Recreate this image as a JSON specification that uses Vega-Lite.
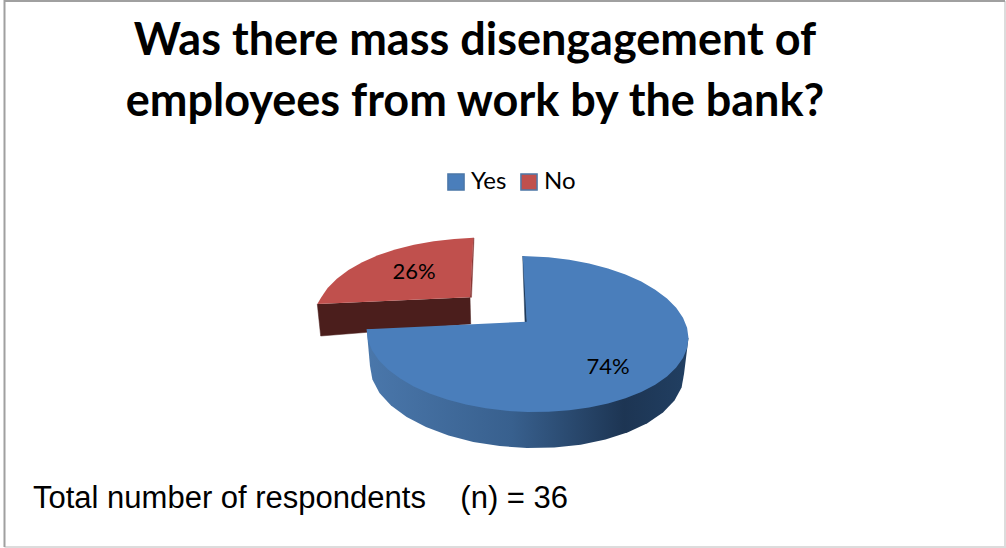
{
  "$schema": "https://vega.github.io/schema/vega-lite/v6.json",
  "width": 1006,
  "height": 548,
  "padding": 0,
  "autosize": {"type": "none"},
  "background": "white",
  "config": {"view": {"stroke": null}},
  "title": {
    "text": ["Was there mass disengagement of", "employees from work by the bank?"],
    "font": "Lato",
    "fontSize": 45,
    "fontWeight": "bold",
    "color": "#000000",
    "lineHeight": 61,
    "anchor": "start",
    "align": "center",
    "baseline": "top",
    "offset": 0,
    "dx": 475,
    "dy": 128
  },
  "datasets": {
    "shares": [
      {"category": "Yes", "share": 0.74, "lx": 608, "ly": 366},
      {"category": "No", "share": 0.26, "lx": 414, "ly": 271}
    ],
    "notes": [
      {"label": "Total number of respondents\u00a0\u00a0\u00a0\u00a0(n) = 36", "lx": 33, "ly": 499}
    ],
    "frame": [
      {"edge": "dark", "i": 1, "x": 4.5, "y": 547},
      {"edge": "dark", "i": 2, "x": 4.5, "y": 1},
      {"edge": "dark", "i": 3, "x": 1005, "y": 1},
      {"edge": "light", "i": 1, "x": 4.5, "y": 547},
      {"edge": "light", "i": 2, "x": 1005, "y": 547},
      {"edge": "light", "i": 3, "x": 1005, "y": 1}
    ],
    "outlines": [
      {"part": "noSide", "i": 1, "x": 317.3, "y": 304},
      {"part": "noSide", "i": 2, "x": 320.7, "y": 336},
      {"part": "noSide", "i": 3, "x": 470.7, "y": 324},
      {"part": "noSide", "i": 4, "x": 470, "y": 297.3},

      {"part": "noWall", "i": 1, "x": 473.3, "y": 237.7},
      {"part": "noWall", "i": 2, "x": 470, "y": 297.3},
      {"part": "noWall", "i": 3, "x": 471.5, "y": 297.3},
      {"part": "noWall", "i": 4, "x": 474, "y": 238},

      {"part": "yesWall", "i": 1, "x": 522.7, "y": 256},
      {"part": "yesWall", "i": 2, "x": 525, "y": 322},
      {"part": "yesWall", "i": 3, "x": 527, "y": 322},
      {"part": "yesWall", "i": 4, "x": 524, "y": 256},

      {"part": "yesSide", "i": 1, "x": 366.7, "y": 329.3},
      {"part": "yesSide", "i": 2, "x": 688.5, "y": 338},
      {"part": "yesSide", "i": 3, "x": 684, "y": 374},
      {"part": "yesSide", "i": 4, "x": 681.6, "y": 387.4},
      {"part": "yesSide", "i": 5, "x": 674.5, "y": 400.5},
      {"part": "yesSide", "i": 6, "x": 663, "y": 412.5},
      {"part": "yesSide", "i": 7, "x": 647.3, "y": 423.2},
      {"part": "yesSide", "i": 8, "x": 628, "y": 432.3},
      {"part": "yesSide", "i": 9, "x": 605.5, "y": 439.5},
      {"part": "yesSide", "i": 10, "x": 580.7, "y": 444.7},
      {"part": "yesSide", "i": 11, "x": 554.3, "y": 447.5},
      {"part": "yesSide", "i": 12, "x": 527, "y": 448},
      {"part": "yesSide", "i": 13, "x": 499.7, "y": 446.1},
      {"part": "yesSide", "i": 14, "x": 473.3, "y": 441.9},
      {"part": "yesSide", "i": 15, "x": 448.5, "y": 435.5},
      {"part": "yesSide", "i": 16, "x": 426, "y": 427.1},
      {"part": "yesSide", "i": 17, "x": 406.7, "y": 417},
      {"part": "yesSide", "i": 18, "x": 391, "y": 405.5},
      {"part": "yesSide", "i": 19, "x": 379.5, "y": 392.9},
      {"part": "yesSide", "i": 20, "x": 372.4, "y": 379.6},
      {"part": "yesSide", "i": 21, "x": 370, "y": 366},

      {"category": "No", "part": "noTop", "i": 1, "x": 473.3, "y": 237.7},
      {"category": "No", "part": "noTop", "i": 2, "x": 454.2, "y": 239},
      {"category": "No", "part": "noTop", "i": 3, "x": 433.7, "y": 241.2},
      {"category": "No", "part": "noTop", "i": 4, "x": 414, "y": 244.7},
      {"category": "No", "part": "noTop", "i": 5, "x": 395.2, "y": 249.5},
      {"category": "No", "part": "noTop", "i": 6, "x": 377.9, "y": 255.3},
      {"category": "No", "part": "noTop", "i": 7, "x": 362.2, "y": 262.2},
      {"category": "No", "part": "noTop", "i": 8, "x": 348.5, "y": 270.1},
      {"category": "No", "part": "noTop", "i": 9, "x": 336.9, "y": 278.7},
      {"category": "No", "part": "noTop", "i": 10, "x": 327.6, "y": 288},
      {"category": "No", "part": "noTop", "i": 11, "x": 321, "y": 297.7},
      {"category": "No", "part": "noTop", "i": 12, "x": 317.3, "y": 304},
      {"category": "No", "part": "noTop", "i": 13, "x": 470, "y": 297.3},

      {"category": "Yes", "part": "yesTop", "i": 1, "x": 522.7, "y": 256},
      {"category": "Yes", "part": "yesTop", "i": 2, "x": 548.5, "y": 257.2},
      {"category": "Yes", "part": "yesTop", "i": 3, "x": 569.2, "y": 259.7},
      {"category": "Yes", "part": "yesTop", "i": 4, "x": 589.1, "y": 263.4},
      {"category": "Yes", "part": "yesTop", "i": 5, "x": 608, "y": 268.5},
      {"category": "Yes", "part": "yesTop", "i": 6, "x": 625.5, "y": 274.5},
      {"category": "Yes", "part": "yesTop", "i": 7, "x": 641.3, "y": 281.6},
      {"category": "Yes", "part": "yesTop", "i": 8, "x": 655.2, "y": 289.7},
      {"category": "Yes", "part": "yesTop", "i": 9, "x": 667, "y": 298.5},
      {"category": "Yes", "part": "yesTop", "i": 10, "x": 676.2, "y": 307.8},
      {"category": "Yes", "part": "yesTop", "i": 11, "x": 683, "y": 317.7},
      {"category": "Yes", "part": "yesTop", "i": 12, "x": 687.1, "y": 327.8},
      {"category": "Yes", "part": "yesTop", "i": 13, "x": 688.5, "y": 338},
      {"category": "Yes", "part": "yesTop", "i": 14, "x": 687.1, "y": 348.2},
      {"category": "Yes", "part": "yesTop", "i": 15, "x": 683, "y": 358.1},
      {"category": "Yes", "part": "yesTop", "i": 16, "x": 676.2, "y": 367.6},
      {"category": "Yes", "part": "yesTop", "i": 17, "x": 667, "y": 376.5},
      {"category": "Yes", "part": "yesTop", "i": 18, "x": 655.2, "y": 384.7},
      {"category": "Yes", "part": "yesTop", "i": 19, "x": 641.3, "y": 392},
      {"category": "Yes", "part": "yesTop", "i": 20, "x": 625.5, "y": 398.3},
      {"category": "Yes", "part": "yesTop", "i": 21, "x": 608, "y": 403.5},
      {"category": "Yes", "part": "yesTop", "i": 22, "x": 589.1, "y": 407.6},
      {"category": "Yes", "part": "yesTop", "i": 23, "x": 569.2, "y": 410.3},
      {"category": "Yes", "part": "yesTop", "i": 24, "x": 548.5, "y": 411.8},
      {"category": "Yes", "part": "yesTop", "i": 25, "x": 527.5, "y": 412},
      {"category": "Yes", "part": "yesTop", "i": 26, "x": 506.5, "y": 410.8},
      {"category": "Yes", "part": "yesTop", "i": 27, "x": 485.8, "y": 408.3},
      {"category": "Yes", "part": "yesTop", "i": 28, "x": 465.9, "y": 404.6},
      {"category": "Yes", "part": "yesTop", "i": 29, "x": 447, "y": 399.5},
      {"category": "Yes", "part": "yesTop", "i": 30, "x": 429.5, "y": 393.5},
      {"category": "Yes", "part": "yesTop", "i": 31, "x": 413.7, "y": 386.4},
      {"category": "Yes", "part": "yesTop", "i": 32, "x": 399.8, "y": 378.3},
      {"category": "Yes", "part": "yesTop", "i": 33, "x": 388, "y": 369.5},
      {"category": "Yes", "part": "yesTop", "i": 34, "x": 378.8, "y": 360.2},
      {"category": "Yes", "part": "yesTop", "i": 35, "x": 372, "y": 350.3},
      {"category": "Yes", "part": "yesTop", "i": 36, "x": 367.9, "y": 340.2},
      {"category": "Yes", "part": "yesTop", "i": 37, "x": 366.7, "y": 329.3},
      {"category": "Yes", "part": "yesTop", "i": 38, "x": 526.7, "y": 321.7}
    ]
  },
  "data": {"name": "outlines"},
  "encoding": {
    "x": {"field": "x", "type": "quantitative", "axis": null, "scale": {"domain": [0, 1006], "nice": false, "zero": false}},
    "y": {"field": "y", "type": "quantitative", "axis": null, "scale": {"domain": [548, 0], "nice": false, "zero": false}},
    "order": {"field": "i", "type": "quantitative"}
  },
  "layer": [
    {
      "data": {"name": "frame"},
      "transform": [{"filter": "datum.edge === 'light'"}],
      "mark": {"type": "line", "stroke": "#dcdcdc", "strokeWidth": 2, "clip": false}
    },
    {
      "data": {"name": "frame"},
      "transform": [{"filter": "datum.edge === 'dark'"}],
      "mark": {"type": "line", "stroke": "#a0a0a0", "strokeWidth": 2, "clip": false}
    },
    {
      "transform": [{"filter": "datum.part === 'noSide'"}],
      "mark": {"type": "line", "fill": "#4b1e1c", "stroke": "#4b1e1c", "strokeWidth": 0.5}
    },
    {
      "transform": [{"filter": "datum.part === 'noWall'"}],
      "mark": {"type": "line", "fill": "#8a3a38", "stroke": "#8a3a38", "strokeWidth": 0.5}
    },
    {
      "transform": [{"filter": "datum.part === 'yesWall'"}],
      "mark": {"type": "line", "fill": "#1f3a5a", "stroke": "#1f3a5a", "strokeWidth": 0.5}
    },
    {
      "transform": [{"filter": "datum.part === 'yesSide'"}],
      "mark": {
        "type": "line",
        "strokeWidth": 0,
        "fill": {
          "gradient": "linear", "x1": 0, "x2": 1, "y1": 0, "y2": 0,
          "stops": [
            {"offset": 0, "color": "#4a77ab"},
            {"offset": 0.45, "color": "#38608e"},
            {"offset": 0.8, "color": "#1d3553"},
            {"offset": 1, "color": "#213f62"}
          ]
        }
      }
    },
    {
      "transform": [{"filter": "datum.part === 'noTop' || datum.part === 'yesTop'"}],
      "mark": {"type": "line", "strokeWidth": 0},
      "encoding": {
        "fill": {
          "field": "category",
          "type": "nominal",
          "scale": {"domain": ["Yes", "No"], "range": ["#4a7ebb", "#c0504d"]},
          "legend": {
            "title": null,
            "orient": "none",
            "direction": "horizontal",
            "legendX": 444,
            "legendY": 170,
            "symbolType": "square",
            "symbolSize": 260,
            "labelFont": "Lato",
            "labelFontSize": 24,
            "labelColor": "#000000",
            "labelOffset": 3,
            "columnPadding": 10
          }
        }
      }
    },
    {
      "data": {"name": "shares"},
      "mark": {"type": "text", "font": "Lato", "fontSize": 22, "color": "#000000", "baseline": "alphabetic", "dy": 8},
      "encoding": {
        "x": {"field": "lx", "type": "quantitative"},
        "y": {"field": "ly", "type": "quantitative"},
        "order": null,
        "text": {"field": "share", "type": "quantitative", "format": ".0%"}
      }
    },
    {
      "data": {"name": "notes"},
      "mark": {"type": "text", "font": "Liberation Sans", "fontSize": 31, "color": "#000000", "align": "left", "baseline": "alphabetic", "dy": 9},
      "encoding": {
        "x": {"field": "lx", "type": "quantitative"},
        "y": {"field": "ly", "type": "quantitative"},
        "order": null,
        "text": {"field": "label", "type": "nominal"}
      }
    }
  ]
}
